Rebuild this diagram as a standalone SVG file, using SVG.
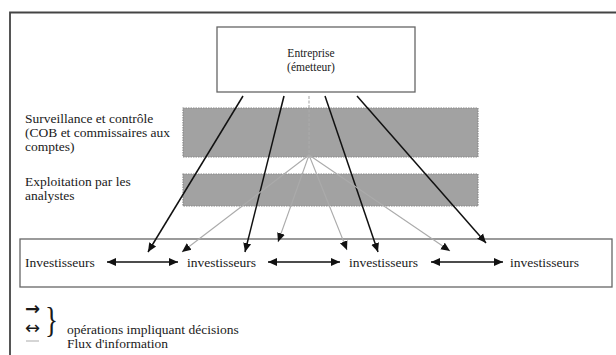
<svg xmlns="http://www.w3.org/2000/svg" width="616" height="355" viewBox="0 0 616 355">
<defs>
<style>
.t{font-family:"Liberation Serif","Times New Roman",serif;fill:#1a1a1a;font-size:13.5px}
.tb{font-family:"Liberation Serif","Times New Roman",serif;fill:#1a1a1a;font-size:11.5px}
.sym{font-family:"DejaVu Sans",sans-serif;fill:#1a1a1a;font-size:18px}
.box{fill:#fff;stroke:#666;stroke-width:1.3}
.band{fill:#a2a2a2;stroke:#8a8a8a;stroke-width:1.2;stroke-dasharray:1.5 1}
.blk{stroke:#111;stroke-width:1.5;fill:none;marker-end:url(#ah)}
.gry{stroke:#ababab;stroke-width:1.1;fill:none;marker-end:url(#ah)}
.dbl{stroke:#111;stroke-width:1.5;fill:none;marker-start:url(#ah);marker-end:url(#ah)}
</style>
<marker id="ah" markerUnits="userSpaceOnUse" markerWidth="10" markerHeight="10" viewBox="0 0 10 10" refX="9" refY="5" orient="auto-start-reverse">
<path d="M0,1 L9,5 L0,9 Z" fill="#111"/>
</marker>
</defs>
<rect width="616" height="355" fill="#fff"/>
<g id="frame">
<path d="M10,355 L10,12.5 L616,12.5" fill="none" stroke="#444" stroke-width="1.8"/>
</g>
<g id="entreprise">
<rect class="box" x="217" y="27" width="198" height="65"/>
<text class="tb" x="311" y="57" text-anchor="middle">Entreprise</text>
<text class="tb" x="311" y="71" text-anchor="middle">(émetteur)</text>
</g>
<g id="surveillance">
<rect class="band" x="183" y="108" width="295" height="49"/>
<text class="t" x="25" y="123">Surveillance et contrôle</text>
<text class="t" x="25" y="137">(COB et commissaires aux</text>
<text class="t" x="25" y="151">comptes)</text>
</g>
<g id="exploitation">
<rect class="band" x="183" y="174" width="295" height="32"/>
<text class="t" x="25" y="186">Exploitation par les</text>
<text class="t" x="25" y="200">analystes</text>
</g>
<g id="investisseurs">
<rect class="box" x="20" y="239" width="592" height="48"/>
<text class="t" x="25" y="267">Investisseurs</text>
<text class="t" x="187" y="267">investisseurs</text>
<text class="t" x="349" y="267">investisseurs</text>
<text class="t" x="510" y="267">investisseurs</text>
</g>
<g id="connectors">
<line class="blk" x1="243" y1="96" x2="148" y2="252"/>
<line class="blk" x1="284" y1="96" x2="245" y2="252"/>
<line class="blk" x1="325" y1="96" x2="378" y2="252"/>
<line class="blk" x1="357" y1="96" x2="486" y2="243"/>
<line x1="309" y1="96" x2="309" y2="155" stroke="#ababab" stroke-width="1.1" stroke-dasharray="3 1.5"/>
<line class="gry" x1="309" y1="155" x2="182" y2="252"/>
<line class="gry" x1="309" y1="155" x2="278" y2="242"/>
<line class="gry" x1="309" y1="155" x2="347" y2="250"/>
<line class="gry" x1="309" y1="155" x2="450" y2="251"/>
<line class="dbl" x1="107" y1="262" x2="178" y2="262"/>
<line class="dbl" x1="268" y1="262" x2="340" y2="262"/>
<line class="dbl" x1="431" y1="262" x2="503" y2="262"/>
</g>
<g id="legend">
<text class="sym" x="25" y="315" font-weight="bold">→</text>
<text class="sym" x="25" y="334">↔</text>
<text x="0" y="0" font-family="Liberation Serif, serif" font-size="36" fill="#1a1a1a" transform="translate(45,332) scale(0.75,1)">}</text>
<text class="t" x="67" y="334">opérations impliquant décisions</text>
<line x1="26" y1="341" x2="39" y2="341" stroke="#ababab" stroke-width="1"/>
<text class="t" x="67" y="348">Flux d'information</text>
</g>
</svg>
